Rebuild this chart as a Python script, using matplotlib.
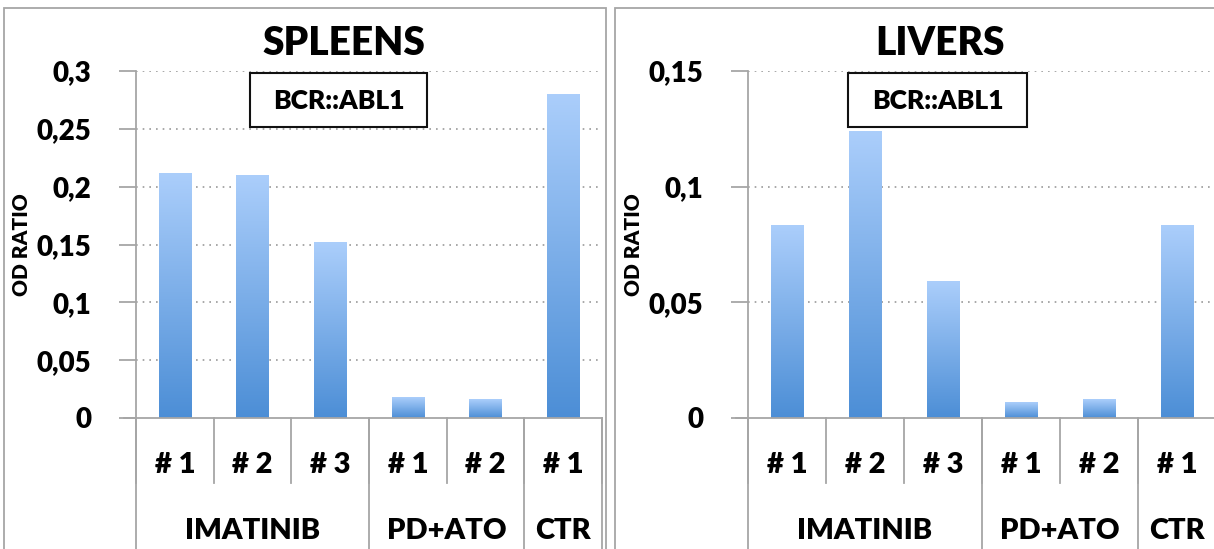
import numpy as np
import matplotlib.pyplot as plt
from matplotlib.patches import Rectangle
from matplotlib.lines import Line2D

plt.rcParams['font.family'] = ['Lato', 'DejaVu Sans']
plt.rcParams['font.weight'] = 'heavy'

samples = ['# 1', '# 2', '# 3', '# 1', '# 2', '# 1']
groups = ['IMATINIB', 'PD+ATO', 'CTR']
group_sizes = [3, 2, 1]
spleens = [0.211, 0.210, 0.152, 0.018, 0.016, 0.280]
livers = [0.0834, 0.124, 0.0588, 0.0065, 0.0082, 0.083]
spleen_ticks = [0, 0.05, 0.1, 0.15, 0.2, 0.25, 0.3]
liver_ticks = [0, 0.05, 0.1, 0.15]

W, H = 1214, 549
GRAY = '#a6a6a6'
WT = 'heavy'
top_col = np.array([171, 206, 251]) / 255
bot_col = np.array([76, 142, 214]) / 255
grad = np.linspace(0, 1, 256)[:, None]
grad_img = top_col * (1 - grad[..., None]) + bot_col * grad[..., None]
grad_img = grad_img[::-1]  # imshow origin lower -> bottom row first

fig = plt.figure(figsize=(W / 100, H / 100), dpi=100)

# panel frames
for x0, x1 in [(4, 606), (615, 1230)]:
    fig.add_artist(Rectangle((x0 / W, -0.1), (x1 - x0) / W, (H - 8) / H + 0.1,
                             transform=fig.transFigure, fill=False,
                             edgecolor=GRAY, lw=1.3))


def tick_label(v):
    return ('%g' % v).replace('.', ',')


def panel(left, right, values, ticks, title, title_x, box_x0, box_x1):
    ax = fig.add_axes([left / W, (H - 418) / H, (right - left) / W, (418 - 71) / H])
    n = len(values)
    xs = np.arange(n)
    bars = ax.bar(xs, values, width=0.42, color='none')
    for b in bars:
        ax.imshow(grad_img, extent=[b.get_x(), b.get_x() + b.get_width(), 0, b.get_height()],
                  aspect='auto', origin='lower', zorder=2, interpolation='bilinear')
    ax.set_xlim(-0.5, n - 0.5)
    ax.set_ylim(0, ticks[-1])
    ax.set_yticks(ticks)
    ax.set_yticklabels([tick_label(t) for t in ticks], fontsize=20, fontweight=WT)
    ax.tick_params(axis='y', length=12, color=GRAY, width=1.3, pad=20)
    ax.set_xticks([])
    for t in ticks[1:]:
        ax.axhline(t, color='#9a9a9a', lw=1.2, ls=(0, (1, 3)), zorder=1)
    for s in ['top', 'right']:
        ax.spines[s].set_visible(False)
    ax.spines['left'].set_color(GRAY)
    ax.spines['left'].set_linewidth(1.3)
    ax.spines['bottom'].set_color(GRAY)
    ax.spines['bottom'].set_linewidth(1.3)
    # extend x axis line to the left like a tick
    ax.add_line(Line2D([-0.5 - 12 / ((right - left) / n), -0.5], [0, 0], color=GRAY,
                       lw=1.3, clip_on=False))
    ax.set_ylabel('OD RATIO', fontsize=15, fontweight=WT, labelpad=4)

    # category axis below
    trans = ax.get_xaxis_transform()
    px = 1.0 / (418 - 71)
    for i in range(n + 1):
        ax.add_line(Line2D([i - 0.5, i - 0.5], [0, -65 * px], transform=trans,
                           color=GRAY, lw=1.3, clip_on=False))
    bounds = np.cumsum([0] + group_sizes)
    for b in bounds:
        ax.add_line(Line2D([b - 0.5, b - 0.5], [0, -200 * px], transform=trans,
                           color=GRAY, lw=1.3, clip_on=False))
    for i, s in enumerate(samples):
        ax.text(i, -47 * px, s, transform=trans, ha='center', va='center',
                fontsize=21, fontweight=WT)
    for g, a, b in zip(groups, bounds[:-1], bounds[1:]):
        ax.text((a + b - 1) / 2, -113 * px, g, transform=trans, ha='center', va='center',
                fontsize=21, fontweight=WT)

    fig.text(title_x / W, 1 - 44 / H, title, ha='center', va='center',
             fontsize=28, fontweight=WT)
    # gene label box
    fig.add_artist(Rectangle((box_x0 / W, 1 - 127 / H), (box_x1 - box_x0) / W, 54 / H,
                             transform=fig.transFigure, fc='white', ec='#111111',
                             lw=1.5, zorder=5))
    fig.text((box_x0 + box_x1) / 2 / W, 1 - 101 / H, 'BCR::ABL1', ha='center',
             va='center', fontsize=19, fontweight=WT, zorder=6)
    return ax


panel(136, 602, spleens, spleen_ticks, 'SPLEENS', 344, 250, 427)
panel(748, 1216, livers, liver_ticks, 'LIVERS', 940, 848, 1027)

fig.savefig('out.png', dpi=100)
